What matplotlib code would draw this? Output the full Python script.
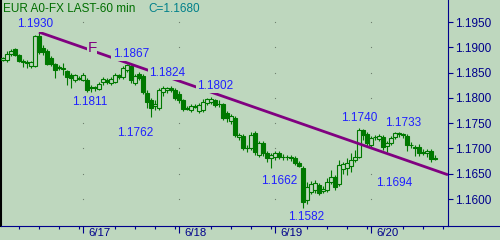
import numpy as np
import matplotlib
matplotlib.use('Agg')
import matplotlib.pyplot as plt
from matplotlib.lines import Line2D
from matplotlib.transforms import ScaledTranslation

plt.rcParams['font.family'] = ['Liberation Sans', 'DejaVu Sans']

# hourly EUR bars, 6/16 04:00 -> 6/20 16:00
opens = [1.1875, 1.1875, 1.1887, 1.1897, 1.1885, 1.1873, 1.1871, 1.1863, 1.1863, 1.1922,
         1.1899, 1.1893, 1.1879, 1.1867, 1.1861, 1.1859, 1.1853, 1.1845, 1.1835, 1.1839,
         1.1835, 1.1835, 1.1820, 1.1822, 1.1818, 1.1832, 1.1835, 1.1830, 1.1832, 1.1845,
         1.1841, 1.1855, 1.1863, 1.1830, 1.1847, 1.1843, 1.1810, 1.1796, 1.1784, 1.1780,
         1.1812, 1.1816, 1.1820, 1.1816, 1.1808, 1.1796, 1.1780, 1.1776, 1.1784, 1.1774,
         1.1776, 1.1790, 1.1792, 1.1796, 1.1788, 1.1788, 1.1770, 1.1754, 1.1760, 1.1723,
         1.1725, 1.1701, 1.1701, 1.1731, 1.1688, 1.1711, 1.1691, 1.1682, 1.1684, 1.1691,
         1.1684, 1.1684, 1.1684, 1.1682, 1.1672, 1.1662, 1.1599, 1.1614, 1.1618, 1.1628,
         1.1616, 1.1618, 1.1634, 1.1644, 1.1630, 1.1660, 1.1662, 1.1666, 1.1678, 1.1684,
         1.1737, 1.1729, 1.1707, 1.1723, 1.1719, 1.1723, 1.1705, 1.1711, 1.1723, 1.1731,
         1.1729, 1.1725, 1.1707, 1.1703, 1.1703, 1.1694, 1.1691, 1.1695, 1.1682]
highs = [1.1881, 1.1893, 1.1897, 1.1899, 1.1887, 1.1877, 1.1875, 1.1873, 1.1924, 1.1930,
         1.1905, 1.1897, 1.1883, 1.1869, 1.1865, 1.1869, 1.1855, 1.1849, 1.1847, 1.1843,
         1.1849, 1.1839, 1.1826, 1.1824, 1.1832, 1.1841, 1.1839, 1.1841, 1.1849, 1.1847,
         1.1863, 1.1867, 1.1865, 1.1847, 1.1851, 1.1847, 1.1816, 1.1800, 1.1796, 1.1820,
         1.1824, 1.1822, 1.1823, 1.1820, 1.1814, 1.1798, 1.1784, 1.1788, 1.1788, 1.1790,
         1.1798, 1.1799, 1.1802, 1.1798, 1.1796, 1.1790, 1.1774, 1.1768, 1.1764, 1.1731,
         1.1729, 1.1707, 1.1733, 1.1735, 1.1715, 1.1715, 1.1695, 1.1691, 1.1695, 1.1695,
         1.1689, 1.1688, 1.1688, 1.1686, 1.1676, 1.1666, 1.1634, 1.1636, 1.1638, 1.1632,
         1.1626, 1.1642, 1.1658, 1.1648, 1.1678, 1.1674, 1.1682, 1.1691, 1.1697, 1.1740,
         1.1739, 1.1733, 1.1725, 1.1727, 1.1729, 1.1727, 1.1715, 1.1725, 1.1733, 1.1732,
         1.1731, 1.1729, 1.1713, 1.1707, 1.1709, 1.1699, 1.1699, 1.1699, 1.1688]
lows = [1.1873, 1.1871, 1.1883, 1.1883, 1.1871, 1.1861, 1.1859, 1.1859, 1.1861, 1.1887,
        1.1885, 1.1865, 1.1863, 1.1839, 1.1855, 1.1845, 1.1826, 1.1820, 1.1832, 1.1835,
        1.1833, 1.1811, 1.1812, 1.1814, 1.1816, 1.1826, 1.1828, 1.1826, 1.1830, 1.1837,
        1.1837, 1.1851, 1.1830, 1.1826, 1.1835, 1.1808, 1.1780, 1.1762, 1.1776, 1.1776,
        1.1804, 1.1810, 1.1812, 1.1796, 1.1790, 1.1774, 1.1776, 1.1772, 1.1780, 1.1770,
        1.1772, 1.1786, 1.1788, 1.1782, 1.1782, 1.1756, 1.1752, 1.1748, 1.1723, 1.1717,
        1.1697, 1.1694, 1.1697, 1.1688, 1.1684, 1.1686, 1.1674, 1.1662, 1.1678, 1.1680,
        1.1678, 1.1678, 1.1676, 1.1668, 1.1664, 1.1582, 1.1591, 1.1610, 1.1612, 1.1608,
        1.1612, 1.1614, 1.1630, 1.1618, 1.1626, 1.1650, 1.1648, 1.1654, 1.1674, 1.1682,
        1.1717, 1.1705, 1.1703, 1.1717, 1.1715, 1.1697, 1.1694, 1.1707, 1.1719, 1.1723,
        1.1721, 1.1696, 1.1701, 1.1686, 1.1686, 1.1688, 1.1684, 1.1674, 1.1678]
closes = [1.1879, 1.1887, 1.1893, 1.1885, 1.1873, 1.1871, 1.1869, 1.1871, 1.1922, 1.1891,
          1.1891, 1.1867, 1.1867, 1.1855, 1.1859, 1.1858, 1.1841, 1.1839, 1.1845, 1.1837,
          1.1845, 1.1816, 1.1822, 1.1820, 1.1828, 1.1837, 1.1832, 1.1837, 1.1845, 1.1841,
          1.1859, 1.1865, 1.1835, 1.1843, 1.1839, 1.1812, 1.1792, 1.1780, 1.1788, 1.1816,
          1.1820, 1.1820, 1.1816, 1.1800, 1.1796, 1.1778, 1.1779, 1.1784, 1.1783, 1.1786,
          1.1792, 1.1798, 1.1798, 1.1786, 1.1787, 1.1760, 1.1760, 1.1764, 1.1727, 1.1727,
          1.1701, 1.1700, 1.1727, 1.1694, 1.1711, 1.1691, 1.1682, 1.1688, 1.1691, 1.1684,
          1.1683, 1.1683, 1.1682, 1.1672, 1.1666, 1.1595, 1.1624, 1.1630, 1.1632, 1.1612,
          1.1620, 1.1634, 1.1644, 1.1624, 1.1668, 1.1670, 1.1672, 1.1678, 1.1684, 1.1737,
          1.1727, 1.1711, 1.1721, 1.1722, 1.1725, 1.1703, 1.1711, 1.1721, 1.1731, 1.1729,
          1.1727, 1.1707, 1.1706, 1.1701, 1.1691, 1.1692, 1.1695, 1.1680, 1.1680]

day_starts = [20, 44, 68, 92]
day_labels = ['6/17', '6/18', '6/19', '6/20']
yticks = [1.1600, 1.1650, 1.1700, 1.1750, 1.1800, 1.1850, 1.1900, 1.1950]

# swing points: (bar, 'h'/'l', label offset in px)
pivots = [(9, 'h', (-4, 8)), (31, 'h', (4, 10)), (21, 'l', (3, -10)),
          (40, 'h', (4, 13)), (37, 'l', (-16, -16)), (52, 'h', (4, 11)),
          (67, 'l', (8, -13)), (75, 'l', (3, -9)), (89, 'h', (0, 10)),
          (98, 'h', (8, 9)), (96, 'l', (7, -31))]

# trend line "F"
trend_x = [9, 111.25]
trend_y = [1.1930, 1.1648]

BG = '#bed7be'
GREEN = '#007800'
NAVY = '#00008c'
BLUE = '#2020ff'
PURPLE = '#800080'

o = np.array(opens); h = np.array(highs); l = np.array(lows); c = np.array(closes)
x = np.arange(len(o))

fig = plt.figure(figsize=(5, 2.4), dpi=100, facecolor=BG)
ax = fig.add_axes([1/500, 14.3/240, 447/500, 225.7/240])
ax.set_facecolor(BG)
ax.set_xlim(-0.5, 111.25)
ax.set_ylim(1.15474, 1.19935)

# grid dots
gx, gy = np.meshgrid(day_starts, yticks)
ax.plot(gx.ravel(), gy.ravel(), ls='', marker='s', ms=0.8, mew=0, color='#708070', zorder=1)

ax.vlines(x, l, h, color=GREEN, lw=0.8, zorder=2)
up = c >= o
body = np.maximum(np.abs(c - o), 0.00003)
ax.bar(x[up], body[up], bottom=np.minimum(o, c)[up], width=0.8,
       facecolor=BG, edgecolor=GREEN, lw=0.8, zorder=3)
ax.bar(x[~up], body[~up], bottom=np.minimum(o, c)[~up], width=0.8,
       facecolor=GREEN, edgecolor=GREEN, lw=0.8, zorder=3)

ax.plot(trend_x, trend_y, color=PURPLE, lw=2.0, zorder=4, solid_capstyle='butt')

box = dict(boxstyle='square,pad=0.12', fc=BG, ec='none')
for i, kind, off in pivots:
    v = h[i] if kind == 'h' else l[i]
    ax.annotate(f'{v:.4f}', (i, v), xytext=off, textcoords='offset pixels',
                ha='center', va='center', color=BLUE, fontsize=8.5, bbox=box, zorder=5)

fx = 22.25
fy = np.interp(fx, trend_x, trend_y)
ax.annotate('F', (fx, fy), xytext=(0, 3), textcoords='offset pixels', ha='center',
            va='center', color=PURPLE, fontsize=11,
            bbox=dict(boxstyle='square,pad=0.05', fc=BG, ec='none'), zorder=5)

ax.spines['top'].set_visible(False)
ax.spines['left'].set_color('black')
ax.spines['left'].set_linewidth(1.5)
ax.spines['right'].set_color(NAVY)
ax.spines['right'].set_linewidth(0.8)
ax.spines['bottom'].set_color(NAVY)
ax.spines['bottom'].set_linewidth(0.8)
fig.add_artist(Line2D([448/500, 1], [14.3/240, 14.3/240], transform=fig.transFigure,
                      color=NAVY, lw=0.8))

ax.yaxis.tick_right()
ax.set_yticks(yticks)
ax.set_yticklabels([f'{v:.4f}' for v in yticks])
ax.tick_params(axis='y', colors=NAVY, length=3.6, width=0.8, pad=1.5, labelsize=8.5)

minor = [d + k for d in [-4] + day_starts for k in (8, 13, 18, 23) if d + k < 111]
ax.set_xticks(day_starts)
ax.set_xticklabels(day_labels)
ax.set_xticks(minor, minor=True)
ax.tick_params(axis='x', which='major', colors=NAVY, length=5, width=0.8, pad=-3.4, labelsize=8.2)
ax.tick_params(axis='x', which='minor', colors=NAVY, length=2.5, width=0.8)
shift = ScaledTranslation(4/72, 0, fig.dpi_scale_trans)
for t in ax.get_xticklabels():
    t.set_ha('left')
    t.set_transform(t.get_transform() + shift)

fig.text(3/500, 1 - 8.5/240, 'EUR A0-FX LAST-60 min', color='#006e00', fontsize=8.5, va='center')
fig.text(148/500, 1 - 8.5/240, f'C={c[-1]:.4f}', color='#00808a', fontsize=8.5, va='center')

fig.savefig('out.png', dpi=100, facecolor=BG)
